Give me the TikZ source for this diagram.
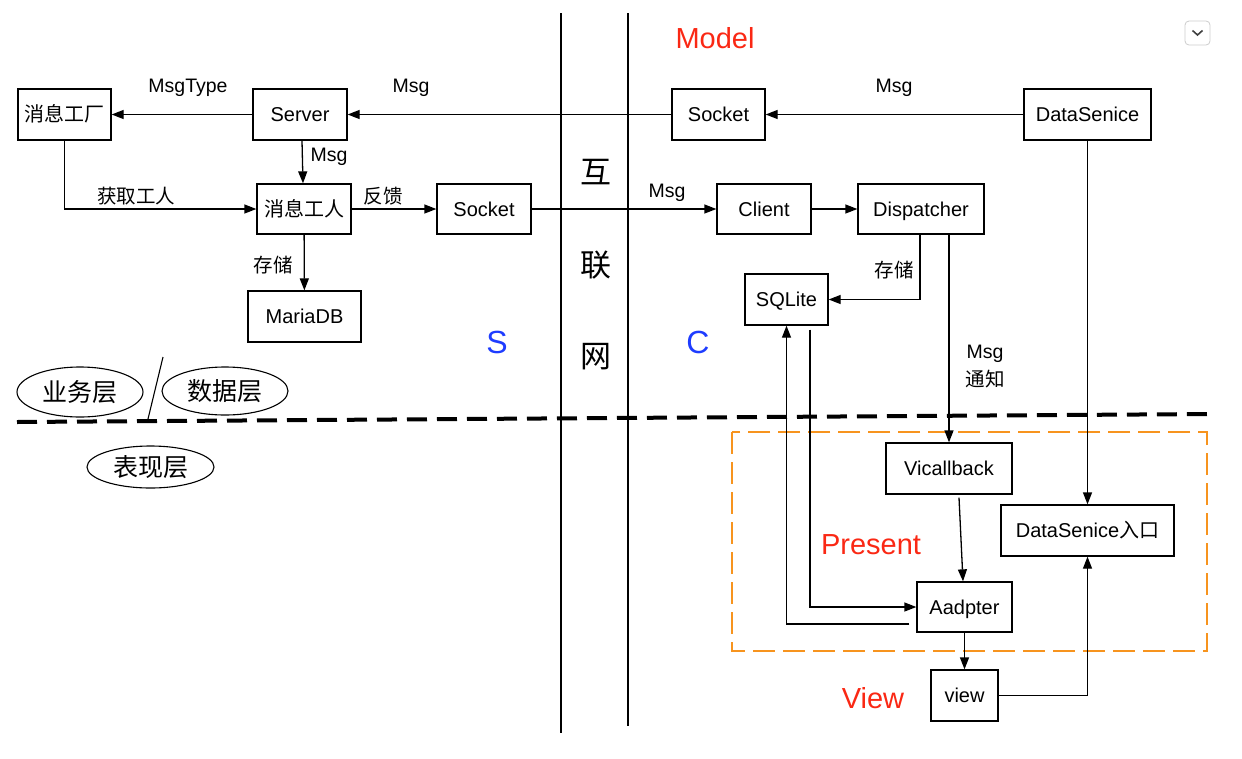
\documentclass[tikz,border=0pt]{standalone}
\usepackage{fontspec}
\setmainfont{Liberation Sans}
\newfontfamily\cjk{Noto Sans CJK SC}
\usetikzlibrary{arrows.meta,calc,shapes.geometric}
\definecolor{mred}{RGB}{250,40,20}
\definecolor{mblue}{RGB}{30,60,255}
\definecolor{morange}{RGB}{247,148,30}
\begin{document}
\begin{tikzpicture}[x=1pt,y=-1pt,
  box/.style={draw, line width=1.3pt, inner sep=0pt, text height=18.8pt, text depth=4.5pt, font=\fontsize{20}{23}\selectfont},
  lbl/.style={inner sep=0pt, font=\fontsize{19.5}{22}\selectfont},
  clbl/.style={inner sep=0pt, font=\cjk\fontsize{19.5}{22}\selectfont},
  big/.style={inner sep=0pt, font=\fontsize{29}{32}\selectfont},
  bigc/.style={inner sep=0pt, font=\cjk\fontsize{31}{34}\selectfont},
  layer/.style={draw, ellipse, line width=1.1pt, inner sep=0pt, font=\cjk\fontsize{25}{28}\selectfont},
  arr/.style={line width=1.3pt, -{Triangle[length=12pt,width=9pt]}},
  ln/.style={line width=1.3pt}]
\useasboundingbox (0,0) rectangle (1242,758);

% network separators
\draw[line width=2.8pt] (561,13) -- (561,733);
\draw[line width=2.8pt] (628,13) -- (628,726);
% layer separator
\draw[line width=4pt, dash pattern=on 20pt off 10pt] (17,422) -- (1213,414);
% present frame
\draw[morange, line width=2.2pt, dash pattern=on 22pt off 8pt] (732,432) rectangle (1207,651);

% boxes
\node[box, minimum width=93pt, minimum height=51pt, font=\cjk\fontsize{20}{23}\selectfont] (fac) at (64.5,114.5) {消息工厂};
\node[box, minimum width=94pt, minimum height=51pt] (srv) at (300,114.5) {Server};
\node[box, minimum width=93pt, minimum height=51pt] (sockT) at (718.5,114.5) {Socket};
\node[box, minimum width=127pt, minimum height=51pt] (ds) at (1087.5,114.5) {DataSenice};
\node[box, minimum width=94pt, minimum height=50pt, font=\cjk\fontsize{20}{23}\selectfont] (wrk) at (304,209) {消息工人};
\node[box, minimum width=94pt, minimum height=50pt] (sockM) at (484,209) {Socket};
\node[box, minimum width=94pt, minimum height=50pt] (cli) at (764,209) {Client};
\node[box, minimum width=126pt, minimum height=50pt] (disp) at (921,209) {Dispatcher};
\node[box, minimum width=113pt, minimum height=51pt] (maria) at (304.5,316.5) {MariaDB};
\node[box, minimum width=83pt, minimum height=51pt] (sql) at (786.5,299.5) {SQLite};
\node[box, minimum width=126pt, minimum height=51pt] (vic) at (949,468.5) {Vicallback};
\node[box, minimum width=173pt, minimum height=51pt] (dsin) at (1087.5,530.5) {DataSenice{\cjk 入口}};
\node[box, minimum width=95pt, minimum height=50pt] (adp) at (964.5,607) {Aadpter};
\node[box, minimum width=67pt, minimum height=51pt] (view) at (964.5,695.5) {view};

% connectors
\draw[arr] (srv) -- (fac);
\draw[arr] (sockT) -- (srv);
\draw[arr] (ds) -- (sockT);
\draw[arr] ($(srv.south)+(2,0)$) -- ($(wrk.north)+(-1,0)$);
\draw[arr] (fac.south) |- (wrk.west);
\draw[arr] (wrk) -- (sockM);
\draw[arr] (sockM) -- (cli);
\draw[arr] (cli) -- (disp);
\draw[arr] (wrk) -- (maria);
\draw[arr] ($(disp.south)+(-1,0)$) |- (sql.east);
\draw[arr] (disp.south -| vic.north) -- (vic.north);
\draw[arr] (ds.south) -- (dsin.north);
\draw[arr] ($(vic.south)+(10,3)$) -- ($(adp.north)+(-1.5,0)$);
\draw[arr] (adp.south) -- (view.north);
\draw[arr] (view.east) -| (dsin.south);
\draw[arr] ($(sql.south)+(23.5,4)$) |- (adp.west);
\draw[arr] ($(adp.west)+(-7,17)$) -| (sql.south);

% connector labels
\node[lbl] (lMsgType) at (188,88) {MsgType};
\node[lbl] (lMsg1) at (411,88) {Msg};
\node[lbl] (lMsg2) at (894,88) {Msg};
\node[lbl] (lMsg3) at (329,157) {Msg};
\node[clbl] (lGet) at (136,196) {获取工人};
\node[clbl] (lFb) at (383,196) {反馈};
\node[clbl] (lSt1) at (273,265) {存储};
\node[lbl] (lMsg4) at (667,193) {Msg};
\node[clbl] (lSt2) at (894,270) {存储};
\node[lbl] (lMsg5) at (985,354) {Msg};
\node[clbl] (lNote) at (985,379) {通知};

% region titles
\node[big, text=mred] (tModel) at (715,38) {Model};
\node[big, text=mred] (tPres) at (871,545) {Present};
\node[big, text=mred] (tView) at (873,698) {View};
\node[big, text=mblue, font=\fontsize{32}{34}\selectfont] (tS) at (497,342) {S};
\node[big, text=mblue, font=\fontsize{32}{34}\selectfont] (tC) at (698,342) {C};
\node[bigc] (n1) at (596,172) {互};
\node[bigc] (n2) at (596,265) {联};
\node[bigc] (n3) at (596,357) {网};

% layers
\node[layer, minimum width=126pt, minimum height=50pt] (L1) at (80,392) {业务层};
\node[layer, minimum width=126pt, minimum height=48pt] (L2) at (225,391) {数据层};
\node[layer, minimum width=127pt, minimum height=42pt] (L3) at (150.5,467) {表现层};
\draw[line width=1.1pt] (163,357) -- (148,419);

% dropdown icon
\draw[black!20, line width=0.8pt, rounded corners=4pt] (1185,21) rectangle (1210,45);
\draw[black!75, line width=1.6pt] (1192.5,30.5) -- (1197.5,35) -- (1202.5,30.5);
\end{tikzpicture}
\end{document}
